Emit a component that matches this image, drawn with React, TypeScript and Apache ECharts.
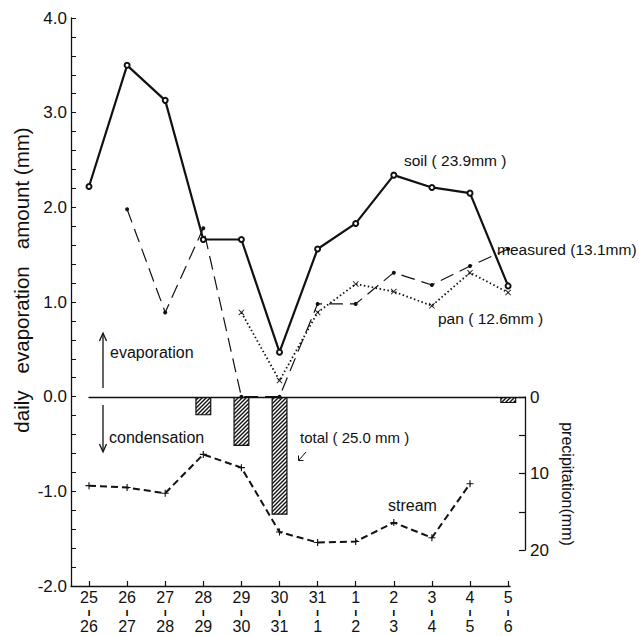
import React, { useEffect, useRef } from "react";
import * as echarts from "echarts";

const startDays = ["25", "26", "27", "28", "29", "30", "31", "1", "2", "3", "4", "5"];
const endDays = ["26", "27", "28", "29", "30", "31", "1", "2", "3", "4", "5", "6"];
const soil = [2.22, 3.5, 3.13, 1.66, 1.66, 0.47, 1.56, 1.83, 2.34, 2.21, 2.15, 1.17];
const measured = [null, 1.98, 0.89, 1.78, 0.0, 0.0, 0.98, 0.98, 1.31, 1.18, 1.38, 1.56];
const pan = [null, null, null, null, 0.89, 0.17, 0.89, 1.19, 1.11, 0.96, 1.31, 1.1];
const stream = [-0.94, -0.96, -1.02, -0.61, -0.75, -1.43, -1.54, -1.53, -1.33, -1.49, -0.92, null];
const precipitation = [0, 0, 0, 2.4, 6.4, 15.4, 0, 0, 0, 0, 0, 0.8];
const leftTicks = [-2, -1, 0, 1, 2, 3, 4];
const rightTickLabels = [0, 10, 20];

const FONT = "Liberation Sans";
const toPairs = (arr: (number | null)[]) =>
  arr.map((v, i) => (v == null ? null : [i, v])).filter((p) => p !== null);

const crossPath = "path://M0,1L1,0L5,4L9,0L10,1L6,5L10,9L9,10L5,6L1,10L0,9L4,5Z";
const plusPath = "path://M4.2,0H5.8V4.2H10V5.8H5.8V10H4.2V5.8H0V4.2H4.2Z";

function makeHatch(): any {
  const s = 4;
  const c = document.createElement("canvas");
  c.width = s;
  c.height = s;
  const ctx = c.getContext("2d");
  if (ctx) {
    ctx.fillStyle = "#fff";
    ctx.fillRect(0, 0, s, s);
    ctx.strokeStyle = "#111";
    ctx.lineWidth = 1.4;
    ctx.beginPath();
    ctx.moveTo(-1, s + 1);
    ctx.lineTo(s + 1, -1);
    ctx.moveTo(-1, 1);
    ctx.lineTo(1, -1);
    ctx.moveTo(s - 1, s + 1);
    ctx.lineTo(s + 1, s - 1);
    ctx.stroke();
  }
  return { image: c, repeat: "repeat" };
}

export default function App() {
  const ref = useRef<HTMLDivElement>(null);
  useEffect(() => {
    if (!ref.current) return;
    const chart = echarts.init(ref.current, null, { renderer: "svg" });
    const black = "#111";
    const option: any = {
      animation: false,
      backgroundColor: "#fff",
      textStyle: { fontFamily: FONT, color: black },
      grid: [
        { left: 71, top: 18, width: 439, height: 568 },
        { left: 89, top: 397, width: 436, height: 153 },
      ],
      xAxis: [
        {
          type: "value",
          gridIndex: 0,
          min: -0.4724,
          max: 11.05,
          axisLine: { show: true, onZero: false, lineStyle: { color: black, width: 1.3 } },
          axisTick: { show: true, inside: true, length: 5, customValues: startDays.map((_, i) => i), lineStyle: { color: black, width: 1.2 } },
          axisLabel: {
            show: true,
            customValues: startDays.map((_, i) => i),
            margin: 4,
            formatter: (v: number) => {
              const i = Math.round(v);
              return `{a|${startDays[i]}}\n{b|ı}\n{a|${endDays[i]}}`;
            },
            rich: {
              a: { fontSize: 16, lineHeight: 15, color: black, fontFamily: FONT },
              b: { fontSize: 11, lineHeight: 14, color: "#000", fontFamily: FONT, fontWeight: "bold" },
            },
          },
          splitLine: { show: false },
        },
        {
          type: "value",
          gridIndex: 1,
          min: 0,
          max: 11.44,
          position: "top",
          axisLine: { show: true, onZero: false, lineStyle: { color: black, width: 1.3 } },
          axisTick: { show: false },
          axisLabel: { show: false },
          splitLine: { show: false },
        },
      ],
      yAxis: [
        {
          type: "value",
          gridIndex: 0,
          min: -2,
          max: 4,
          interval: 0.2,
          axisLine: { show: true, onZero: false, lineStyle: { color: black, width: 1.3 } },
          axisTick: { show: true, inside: true, length: 5, lineStyle: { color: black, width: 1 } },
          axisLabel: {
            margin: 4,
            fontSize: 17,
            color: black,
            formatter: (v: number) => {
              const r = Math.round(v);
              return Math.abs(v - r) < 1e-6 && leftTicks.includes(r) ? r.toFixed(1) : "";
            },
          },
          splitLine: { show: false },
        },
        {
          type: "value",
          gridIndex: 1,
          position: "right",
          inverse: true,
          min: 0,
          max: 20,
          interval: 5,
          axisLine: { show: true, onZero: false, lineStyle: { color: black, width: 1.3 } },
          axisTick: { show: true, inside: true, length: 6, lineStyle: { color: black, width: 1.2 } },
          axisLabel: {
            margin: 5,
            fontSize: 17,
            color: black,
            formatter: (v: number) => (rightTickLabels.includes(v) ? String(v) : ""),
          },
          splitLine: { show: false },
        },
      ],
      series: [
        {
          name: "precipitation",
          type: "bar",
          xAxisIndex: 1,
          yAxisIndex: 1,
          barWidth: 16,
          data: precipitation.map((v, i) => [i, v]).filter((p) => p[1] > 0),
          itemStyle: {
            color: makeHatch(),
            borderColor: black,
            borderWidth: 1.2,
          },
        },
        {
          name: "soil",
          type: "line",
          xAxisIndex: 0,
          yAxisIndex: 0,
          data: toPairs(soil),
          symbol: "emptyCircle",
          symbolSize: 5,
          lineStyle: { color: black, width: 2.2 },
          itemStyle: { color: black, borderWidth: 1 },
        },
        {
          name: "measured",
          type: "line",
          xAxisIndex: 0,
          yAxisIndex: 0,
          data: toPairs(measured),
          symbol: "circle",
          symbolSize: 4,
          lineStyle: { color: black, width: 1.2, type: [14, 7] },
          itemStyle: { color: black },
        },
        {
          name: "pan",
          type: "line",
          xAxisIndex: 0,
          yAxisIndex: 0,
          data: toPairs(pan),
          symbol: crossPath,
          symbolSize: 6,
          lineStyle: { color: black, width: 1.8, type: [1.5, 2.5] },
          itemStyle: { color: black },
        },
        {
          name: "stream",
          type: "line",
          xAxisIndex: 0,
          yAxisIndex: 0,
          data: toPairs(stream),
          symbol: plusPath,
          symbolSize: 7,
          lineStyle: { color: black, width: 2, type: [7, 4] },
          itemStyle: { color: black },
        },
      ],
      graphic: [
        { type: "text", x: 21, y: 280, rotation: Math.PI / 2, style: { text: "daily   evaporation   amount (mm)", fontSize: 20.5, fill: black, fontFamily: FONT, align: "center", verticalAlign: "middle" } },
        { type: "text", x: 567, y: 484, rotation: -Math.PI / 2, style: { text: "precipitation(mm)", fontSize: 16, fill: black, fontFamily: FONT, align: "center", verticalAlign: "middle" } },
        { type: "text", left: 404, top: 152, style: { text: "soil ( 23.9mm )", fontSize: 15.5, fill: black, fontFamily: FONT } },
        { type: "text", left: 497, top: 241, style: { text: "measured (13.1mm)", fontSize: 15.5, fill: black, fontFamily: FONT } },
        { type: "text", left: 438, top: 310, style: { text: "pan ( 12.6mm )", fontSize: 15.5, fill: black, fontFamily: FONT } },
        { type: "text", left: 110, top: 344, style: { text: "evaporation", fontSize: 16, fill: black, fontFamily: FONT } },
        { type: "text", left: 109, top: 429, style: { text: "condensation", fontSize: 16, fill: black, fontFamily: FONT } },
        { type: "text", left: 300, top: 430, style: { text: "total ( 25.0 mm )", fontSize: 15, fill: black, fontFamily: FONT } },
        { type: "text", left: 388, top: 497, style: { text: "stream", fontSize: 16, fill: black, fontFamily: FONT } },
        { type: "line", shape: { x1: 103, y1: 388, x2: 103, y2: 334 }, style: { stroke: black, lineWidth: 1.3 } },
        { type: "polyline", shape: { points: [[99.5, 341], [103, 333], [106.5, 341]] }, style: { stroke: black, lineWidth: 1.3, fill: null } },
        { type: "line", shape: { x1: 103, y1: 405, x2: 103, y2: 451 }, style: { stroke: black, lineWidth: 1.3 } },
        { type: "polyline", shape: { points: [[99.5, 444], [103, 452], [106.5, 444]] }, style: { stroke: black, lineWidth: 1.3, fill: null } },
        { type: "line", shape: { x1: 306, y1: 452, x2: 299, y2: 460 }, style: { stroke: black, lineWidth: 1 } },
        { type: "polyline", shape: { points: [[298.5, 455.5], [298.5, 460.5], [303.5, 460.5]] }, style: { stroke: black, lineWidth: 1, fill: null } },
      ],
    };
    chart.setOption(option);
    return () => chart.dispose();
  }, []);
  return <div ref={ref} style={{ position: "absolute", left: 0, top: 0, width: 639, height: 636 }} />;
}
